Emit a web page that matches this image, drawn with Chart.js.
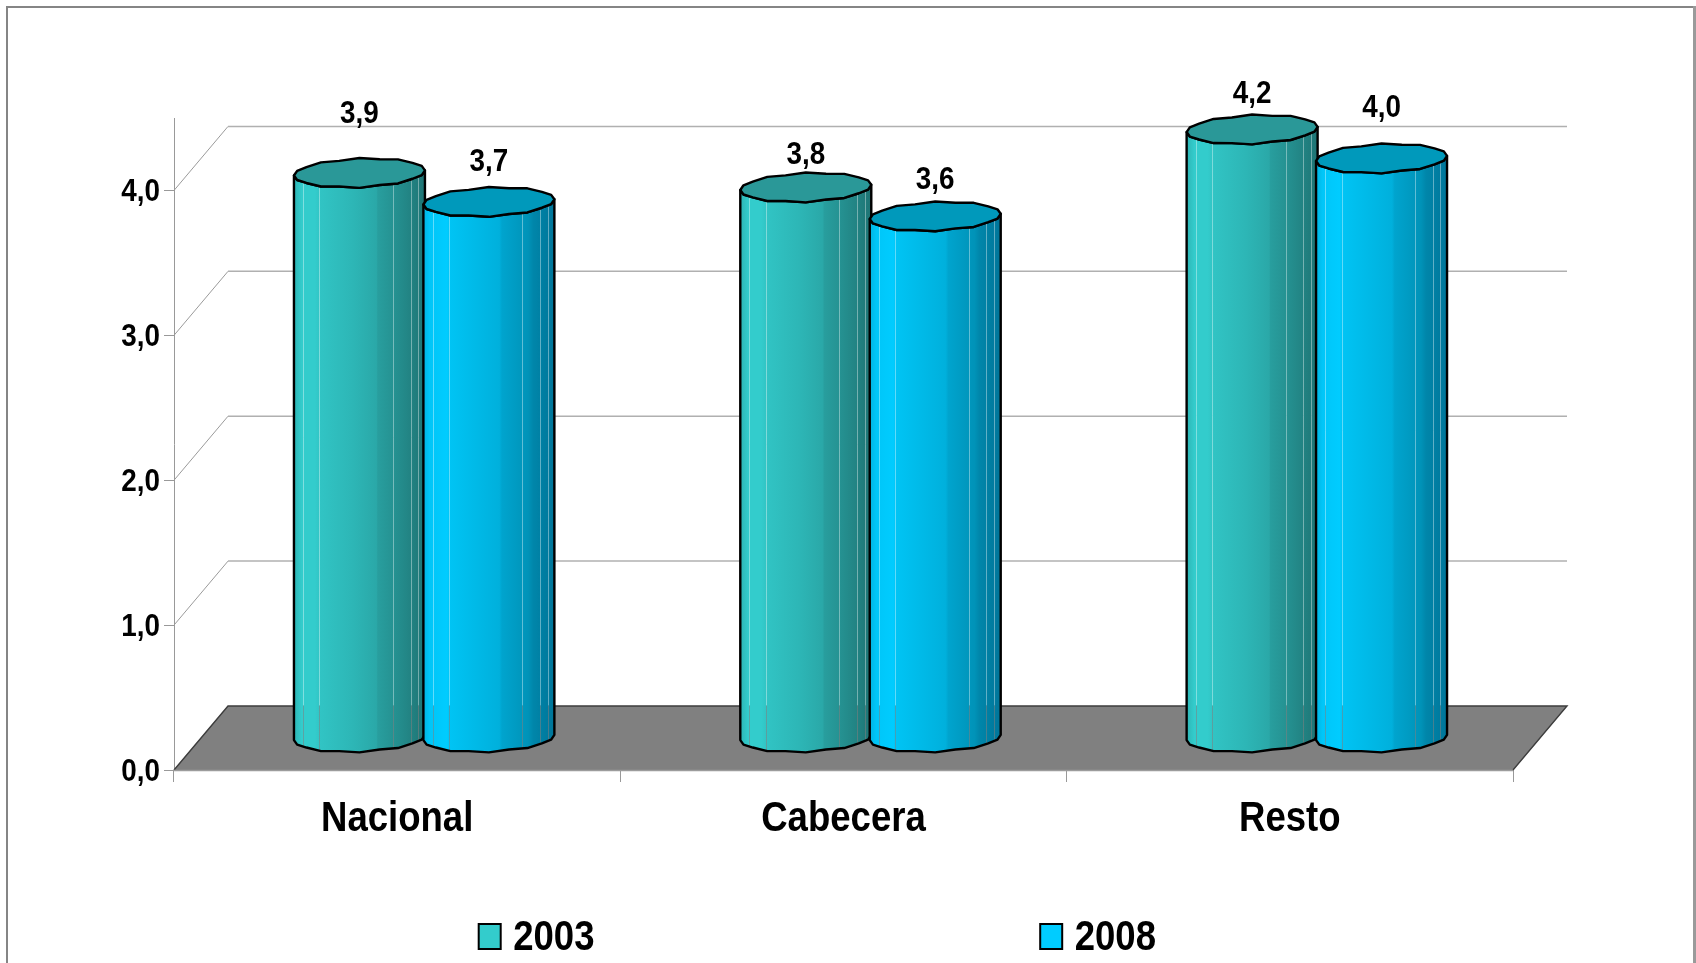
<!DOCTYPE html>
<html>
<head>
<meta charset="utf-8">
<script src="https://cdn.jsdelivr.net/npm/chart.js@4/dist/chart.umd.min.js"></script>
<style>
html,body{margin:0;padding:0;background:#fff}
canvas{display:block}
</style>
</head>
<body>
<canvas id="c" width="1696" height="963"></canvas>
<script>
const categories = ['Nacional', 'Cabecera', 'Resto'];
const seriesNames = ['2003', '2008'];
const values2003 = [3.9, 3.8, 4.2];
const values2008 = [3.7, 3.6, 4.0];
const yTicks = [0, 1, 2, 3, 4];

// hand-placed label heights above each bar top (as in the reference)
const labelLift2003 = [59, 32, 35];
const labelLift2008 = [40, 36, 50];

const FONT = '"Liberation Sans",Arial,sans-serif';
const TEXT_SQUEEZE = 0.87; // the reference uses horizontally condensed bold type
const depthX = 54, depthY = 64;
const fmt = v => Number(v).toFixed(1).replace('.', ',');

const palettes = [
  { legend:'#33CCCC', top:'#2A9898',
    stops:[[0,'#2DB5B5'],[0.06,'#33CCCC'],[0.16,'#33CCCC'],[0.2,'#31C4C4'],[0.45,'#2DB6B6'],[0.63,'#2AA8A8'],[0.64,'#289E9E'],[0.76,'#259292'],[0.88,'#228484'],[1,'#1E7474']] },
  { legend:'#00CCFF', top:'#0099BB',
    stops:[[0,'#00B4E2'],[0.05,'#00C6F8'],[0.18,'#00CCFF'],[0.2,'#00C4F4'],[0.58,'#00B0DC'],[0.6,'#00A4CE'],[0.8,'#0093B8'],[0.84,'#0086AA'],[1,'#007599']] }
];
const hairFractions = [0.07, 0.195, 0.755, 0.89, 0.95];

function cylPoint(cx, cy, rx, ry, t, i) {
  const wob = 1 + (i % 2 ? 0.05 : -0.05);
  return [cx + rx * Math.cos(t), cy + ry * wob * Math.sin(t) - 2.6 * Math.cos(t)];
}

function drawCylinder(ctx, el, pal) {
  const w = el.width * 1.012, rx = w / 2, ry = 14.2;
  const cx = el.x + depthX / 2, top = el.y - depthY / 2, base = el.base - depthY / 2;
  const floorBack = el.base - depthY;
  const N = 10;
  const side = () => {
    ctx.beginPath();
    let p = cylPoint(cx, top, rx, ry, Math.PI, 0);
    ctx.moveTo(p[0], p[1]);
    for (let i = 0; i <= N; i++) {
      p = cylPoint(cx, base, rx, ry, Math.PI - Math.PI * i / N, i);
      ctx.lineTo(p[0], p[1]);
    }
    for (let i = N; i >= 0; i--) {
      p = cylPoint(cx, top, rx, ry, Math.PI - Math.PI * i / N, i);
      ctx.lineTo(p[0], p[1]);
    }
    ctx.closePath();
  };
  const g = ctx.createLinearGradient(cx - rx, 0, cx + rx, 0);
  pal.stops.forEach(s => g.addColorStop(s[0], s[1]));
  ctx.save();
  side();
  ctx.fillStyle = g;
  ctx.fill();
  ctx.clip();
  ctx.lineWidth = 1;
  hairFractions.forEach(f => {
    const x = Math.round(cx - rx + w * f) + 0.5;
    ctx.strokeStyle = 'rgba(255,255,255,0.38)';
    ctx.beginPath(); ctx.moveTo(x, top - 20); ctx.lineTo(x, floorBack); ctx.stroke();
    ctx.strokeStyle = 'rgba(128,128,128,0.55)';
    ctx.beginPath(); ctx.moveTo(x, floorBack); ctx.lineTo(x, base + 20); ctx.stroke();
  });
  ctx.restore();
  ctx.lineWidth = 2.4;
  ctx.strokeStyle = '#000';
  ctx.lineJoin = 'round';
  side();
  ctx.stroke();
  ctx.beginPath();
  const M = 2 * N;
  for (let i = 0; i < M; i++) {
    const p = cylPoint(cx, top, rx, ry, Math.PI - 2 * Math.PI * i / M, i);
    if (i) ctx.lineTo(p[0], p[1]); else ctx.moveTo(p[0], p[1]);
  }
  ctx.closePath();
  ctx.fillStyle = pal.top;
  ctx.fill();
  ctx.stroke();
}

const scene3d = {
  id: 'scene3d',
  beforeInit(chart) {
    // condense every label around its anchor point
    const ctx = chart.ctx, raw = ctx.fillText.bind(ctx);
    ctx.fillText = (s, x, y) => {
      ctx.save();
      ctx.translate(x, y);
      ctx.scale(TEXT_SQUEEZE, 1);
      raw(s, 0, 0);
      ctx.restore();
    };
  },
  beforeDraw(chart) {
    const ctx = chart.ctx;
    // y tick labels sit slightly lower than their ticks in the reference
    chart.scales.y.getLabelItems().forEach(it => {
      if (!it.nudged) { it.options.translation[1] += 2; it.nudged = true; }
    });
    ctx.save();
    ctx.strokeStyle = '#858585';
    ctx.lineWidth = 2;
    ctx.beginPath();
    ctx.moveTo(7, 963); ctx.lineTo(7, 7); ctx.lineTo(1694, 7);
    ctx.stroke();
    ctx.strokeStyle = '#9a9a9a';
    ctx.lineWidth = 3;
    ctx.beginPath();
    ctx.moveTo(1694.5, 6); ctx.lineTo(1694.5, 963);
    ctx.stroke();
    ctx.restore();
  },
  beforeDatasetsDraw(chart) {
    const ctx = chart.ctx, a = chart.chartArea, y = chart.scales.y;
    const L = a.left, R = a.right, B = y.getPixelForValue(0);
    ctx.save();
    yTicks.filter(v => v > 0).forEach(v => {
      const py = y.getPixelForValue(v);
      ctx.strokeStyle = '#9a9a9a';
      ctx.lineWidth = 1;
      ctx.beginPath(); ctx.moveTo(L, py); ctx.lineTo(L + depthX, py - depthY); ctx.stroke();
      ctx.strokeStyle = '#b0b0b0';
      ctx.lineWidth = 1.5;
      ctx.beginPath(); ctx.moveTo(L + depthX, py - depthY); ctx.lineTo(R + depthX, py - depthY); ctx.stroke();
    });
    ctx.beginPath();
    ctx.moveTo(L, B); ctx.lineTo(L + depthX, B - depthY);
    ctx.lineTo(R + depthX, B - depthY); ctx.lineTo(R, B); ctx.closePath();
    ctx.fillStyle = '#808080';
    ctx.fill();
    ctx.strokeStyle = '#3c3c3c';
    ctx.lineWidth = 1.4;
    ctx.beginPath();
    ctx.moveTo(L, B); ctx.lineTo(L + depthX, B - depthY);
    ctx.lineTo(R + depthX, B - depthY); ctx.lineTo(R, B);
    ctx.stroke();
    ctx.strokeStyle = '#9c9c9c';
    ctx.beginPath(); ctx.moveTo(L, B + 0.5); ctx.lineTo(R, B + 0.5); ctx.stroke();
    // cylinders: earlier series first, so the later one overlaps it
    chart.data.datasets.forEach((ds, d) => {
      chart.getDatasetMeta(d).data.forEach(el => drawCylinder(ctx, el, palettes[d]));
    });
    ctx.restore();
  },
  beforeDatasetDraw() {
    return false; // flat bars are replaced by the cylinders above
  },
  afterDatasetsDraw(chart) {
    const ctx = chart.ctx;
    const lifts = [labelLift2003, labelLift2008];
    ctx.save();
    ctx.font = 'bold 32px ' + FONT;
    ctx.fillStyle = '#000';
    ctx.textAlign = 'center';
    ctx.textBaseline = 'middle';
    chart.data.datasets.forEach((ds, d) => {
      chart.getDatasetMeta(d).data.forEach((el, i) => {
        ctx.fillText(fmt(ds.data[i]), el.x + depthX / 2, el.y - depthY / 2 - lifts[d][i]);
      });
    });
    ctx.restore();
  },
  afterDraw(chart) {
    const ctx = chart.ctx;
    const B = chart.chartArea.left;
    // legend: two entries beneath the plot
    const slots = [B + 304.7, B + 866.2];
    ctx.save();
    chart.data.datasets.forEach((ds, d) => {
      const x = slots[d];
      ctx.fillStyle = ds.backgroundColor;
      ctx.strokeStyle = '#000';
      ctx.lineWidth = 2;
      ctx.fillRect(x, 924, 22, 25);
      ctx.strokeRect(x, 924, 22, 25);
      ctx.fillStyle = '#000';
      ctx.font = 'bold 42px ' + FONT;
      ctx.textAlign = 'left';
      ctx.textBaseline = 'alphabetic';
      ctx.fillText(ds.label, x + 34.5, 949.5);
    });
    ctx.restore();
  }
};

new Chart(document.getElementById('c'), {
  type: 'bar',
  data: {
    labels: categories,
    datasets: [
      { label: seriesNames[0], data: values2003, backgroundColor: palettes[0].legend, categoryPercentage: 0.58, barPercentage: 1 },
      { label: seriesNames[1], data: values2008, backgroundColor: palettes[1].legend, categoryPercentage: 0.58, barPercentage: 1 }
    ]
  },
  plugins: [scene3d],
  options: {
    responsive: false,
    animation: false,
    events: [],
    layout: { padding: { left: 0, right: 183, top: 118, bottom: 0 } },
    plugins: { legend: { display: false }, tooltip: { enabled: false }, title: { display: false } },
    scales: {
      x: {
        afterFit(s) { s.height = 193; },
        grid: { drawOnChartArea: false, color: '#999', tickLength: 12, tickWidth: 1, tickColor: '#999' },
        border: { color: '#999', width: 1 },
        ticks: { color: '#000', padding: 12, maxRotation: 0, font: { family: FONT, weight: 'bold', size: 42 } }
      },
      y: {
        min: 0, max: 4.5,
        afterFit(s) { s.width = 174; },
        afterBuildTicks(s) { s.ticks = yTicks.map(v => ({ value: v })); },
        grid: { drawOnChartArea: false, color: '#999', tickLength: 10, tickColor: '#999' },
        border: { color: '#999', width: 1 },
        ticks: { color: '#000', padding: 4, callback: fmt, font: { family: FONT, weight: 'bold', size: 32 } }
      }
    }
  }
});
</script>
</body>
</html>
